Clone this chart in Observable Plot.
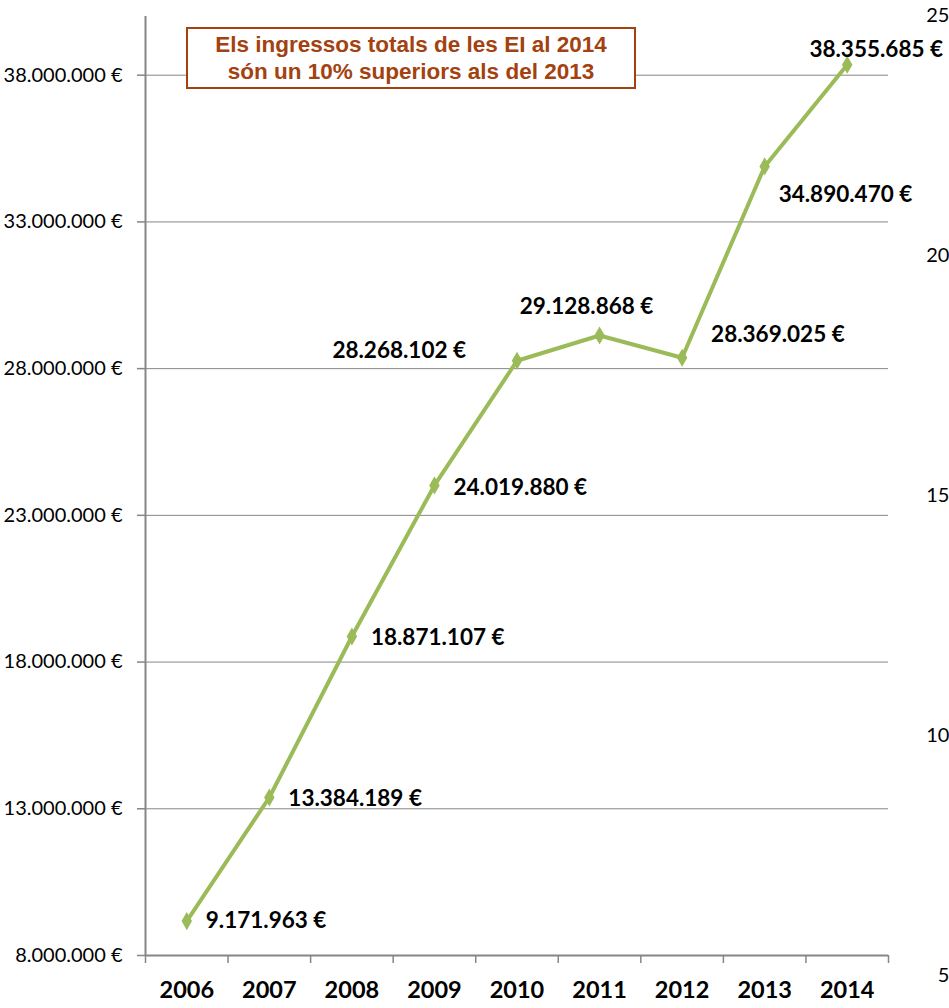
<!DOCTYPE html>
<html>
<head>
<meta charset="utf-8">
<script src="https://cdn.jsdelivr.net/npm/d3@7"></script>
<script src="https://cdn.jsdelivr.net/npm/@observablehq/plot@0.6"></script>
<style>
  html, body { margin: 0; padding: 0; background: #fff; }
  #wrap { position: relative; width: 949px; height: 1008px; overflow: hidden; }
  #note {
    position: absolute; left: 186px; top: 27px; width: 446px; height: 58px;
    border: 2px solid #A3410F; background: #fff; color: #A3410F;
    font-family: "Liberation Sans", Arial, sans-serif; font-weight: bold;
    font-size: 22.5px; line-height: 27px; text-align: center;
    display: flex; flex-direction: column; justify-content: center;
  }
</style>
</head>
<body>
<div id="wrap"></div>
<script>
// ---- data ----
const years = [2006, 2007, 2008, 2009, 2010, 2011, 2012, 2013, 2014];
const incomes = [9171963, 13384189, 18871107, 24019880, 28268102, 29128868, 28369025, 34890470, 38355685];
const yTicks = [8000000, 13000000, 18000000, 23000000, 28000000, 33000000, 38000000];
const secondaryTicks = [25, 20, 15, 10, 5];
const noteLines = ["Els ingressos totals de les EI al 2014", "són un 10% superiors als del 2013"];

// ---- presentation config ----
const labelOffsets = {
  2006: {dx: 19, dy: 0, anchor: "start"},
  2007: {dx: 19, dy: 1, anchor: "start"},
  2008: {dx: 19, dy: 1, anchor: "start"},
  2009: {dx: 19, dy: 2, anchor: "start"},
  2010: {dx: -51, dy: -10, anchor: "end"},
  2011: {dx: -13, dy: -29, anchor: "middle"},
  2012: {dx: 29, dy: -23, anchor: "start"},
  2013: {dx: 14, dy: 28, anchor: "start"},
  2014: {dx: 29, dy: -15, anchor: "middle"}
};

const rows = years.map((year, i) => ({year, value: incomes[i]}));
const euro = v => d3.format(",")(v).replace(/,/g, ".") + " €";

const yMin = 8000000, yMax = 40000000;
// secondary (cut-off) axis: map its values onto the primary scale
const secToPrimary = v => 7318000 + (v - 5) * 1636400;

const green = "#9BBB59";
const grey = "#868686";
const labelFont = "Lato, 'Open Sans', sans-serif";

const marks = [
  Plot.gridY(yTicks, {stroke: grey, strokeOpacity: 1, strokeWidth: 1}),
  Plot.axisY(yTicks, {
    tickSize: 8, tickPadding: 15, stroke: grey, strokeWidth: 1.5,
    tickFormat: euro, fontSize: 20, fill: "#000", label: null
  }),
  Plot.axisX(d3.range(2005.5, 2015, 1), {
    tickSize: 8, tickFormat: () => "", stroke: grey, strokeWidth: 1.5, label: null
  }),
  Plot.axisX(years, {
    tickSize: 0, tickPadding: 26, tickFormat: d => String(d),
    fontSize: 23.5, fontWeight: "bold", fill: "#000", label: null
  }),
  Plot.ruleX([2005.5], {stroke: grey, strokeWidth: 2}),
  Plot.ruleY([yMin], {stroke: grey, strokeWidth: 2}),
  Plot.line(rows, {x: "year", y: "value", stroke: green, strokeWidth: 4}),
  Plot.dot(rows, {x: "year", y: "value", symbol: "diamond", r: 5.5, fill: green, stroke: "none"}),
  ...years.map(yr => {
    const o = labelOffsets[yr];
    return Plot.text(rows.filter(d => d.year === yr), {
      x: "year", y: "value", text: d => euro(d.value),
      dx: o.dx, dy: o.dy, textAnchor: o.anchor,
      fontSize: 22.5, fontWeight: "bold", fill: "#000", clip: false
    });
  }),
  Plot.text(secondaryTicks, {
    x: () => 2014.5, y: d => secToPrimary(d), text: d => d + "%",
    dx: 77, textAnchor: "end", fontSize: 20, fill: "#000"
  })
];

const chart = Plot.plot({
  width: 949,
  height: 1008,
  marginLeft: 145,
  marginRight: 61,
  marginTop: 16,
  marginBottom: 53,
  style: {fontFamily: labelFont, background: "#fff", overflow: "hidden"},
  x: {type: "linear", domain: [2005.5, 2014.5], axis: null},
  y: {type: "linear", domain: [yMin, yMax], axis: null},
  marks
});

const wrap = document.getElementById("wrap");
wrap.appendChild(chart);
const note = document.createElement("div");
note.id = "note";
noteLines.forEach(t => { const d = document.createElement("div"); d.textContent = t; note.appendChild(d); });
wrap.appendChild(note);
</script>
</body>
</html>
